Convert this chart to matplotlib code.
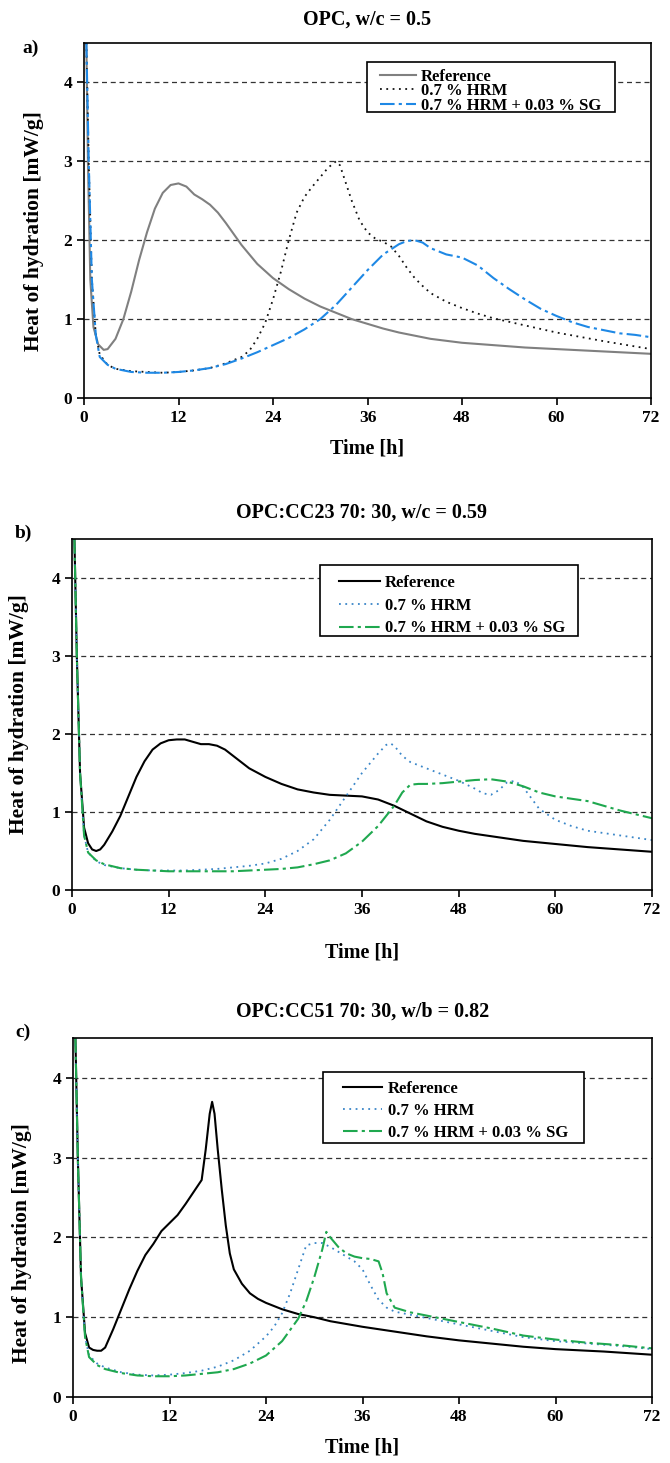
import matplotlib
matplotlib.use("Agg")
import matplotlib.pyplot as plt
from matplotlib.patches import Rectangle

plt.rcParams['font.family'] = ['Liberation Serif', 'DejaVu Serif']
plt.rcParams['font.weight'] = 'bold'

# ---- panel a: OPC, w/c = 0.5 ----
a_ref_t = [0.3, 0.5, 0.8, 1.2, 1.8, 2.5, 3, 4, 5, 6, 7, 8, 9, 10, 11, 12, 13, 14, 15, 16, 17, 18,
           19, 20, 21, 22, 24, 26, 28, 30, 32, 34, 36, 38, 40, 44, 48, 52, 56, 60, 66, 72]
a_ref_q = [4.5, 3.0, 1.5, 0.9, 0.68, 0.61, 0.62, 0.75, 1.0, 1.35, 1.75, 2.1, 2.4, 2.6, 2.7, 2.72, 2.68,
           2.58, 2.52, 2.45, 2.35, 2.22, 2.08, 1.94, 1.82, 1.7, 1.52, 1.38, 1.26, 1.16, 1.08, 1.0, 0.94,
           0.88, 0.83, 0.75, 0.7, 0.67, 0.64, 0.62, 0.59, 0.56]
a_hrm_t = [0.3, 0.6, 1, 1.5, 2, 3, 4, 6, 8, 10, 12, 14, 16, 18, 20, 21, 22, 23, 24, 25, 26, 27, 28, 29,
           30, 31, 32, 32.5, 33, 34, 35, 36, 37, 38, 39, 40, 41, 42, 43, 44, 46, 48, 50, 52, 56, 60, 66, 72]
a_hrm_q = [4.5, 3.0, 1.5, 0.8, 0.55, 0.42, 0.37, 0.34, 0.33, 0.32, 0.33, 0.35, 0.38, 0.44, 0.52, 0.6,
           0.75, 0.95, 1.25, 1.6, 2.0, 2.35, 2.55, 2.68, 2.8, 2.92, 3.0, 2.95, 2.8, 2.5, 2.25, 2.1, 2.02,
           1.98, 1.92, 1.8, 1.65, 1.52, 1.42, 1.33, 1.22, 1.14, 1.07, 1.01, 0.92, 0.83, 0.72, 0.62]
a_sg_t = [0.3, 0.6, 1, 1.5, 2, 3, 4, 6, 8, 10, 12, 14, 16, 18, 20, 22, 24, 26, 28, 30, 32, 34, 36, 38,
          40, 41, 42, 43, 44, 46, 48, 50, 52, 54, 56, 58, 60, 62, 64, 66, 68, 70, 72]
a_sg_q = [4.5, 3.0, 1.5, 0.8, 0.52, 0.42, 0.37, 0.33, 0.32, 0.32, 0.33, 0.35, 0.38, 0.43, 0.5, 0.58,
          0.67, 0.76, 0.87, 1.0, 1.18, 1.4, 1.62, 1.82, 1.95, 1.99, 2.0, 1.97, 1.9, 1.82, 1.78, 1.68,
          1.52, 1.38, 1.25, 1.13, 1.04, 0.96, 0.9, 0.86, 0.82, 0.8, 0.77]

# ---- panel b: OPC:CC23 70:30, w/c = 0.59 ----
b_ref_t = [0.3, 0.6, 1, 1.5, 2, 2.5, 3, 3.5, 4, 5, 6, 7, 8, 9, 10, 11, 12, 13, 14, 15, 16, 17, 18, 19,
           20, 21, 22, 24, 26, 28, 30, 32, 34, 36, 38, 40, 42, 44, 46, 48, 50, 52, 56, 60, 64, 68, 72]
b_ref_q = [4.5, 3.0, 1.5, 0.8, 0.6, 0.52, 0.5, 0.52, 0.58, 0.75, 0.95, 1.2, 1.45, 1.65, 1.8, 1.88,
           1.92, 1.93, 1.93, 1.9, 1.87, 1.87, 1.85, 1.8, 1.72, 1.64, 1.56, 1.45, 1.36, 1.29, 1.25, 1.22,
           1.21, 1.2, 1.16, 1.08, 0.98, 0.88, 0.81, 0.76, 0.72, 0.69, 0.63, 0.59, 0.55, 0.52, 0.49]
b_hrm_t = [0.3, 0.6, 1, 1.5, 2, 3, 4, 6, 8, 10, 12, 14, 16, 18, 20, 22, 24, 26, 28, 30, 32, 34, 36, 38,
           39, 39.5, 40, 41, 42, 44, 46, 48, 50, 51, 52, 53, 54, 55, 56, 57, 58, 60, 62, 64, 66, 68, 70, 72]
b_hrm_q = [4.5, 3.0, 1.5, 0.7, 0.48, 0.37, 0.32, 0.28, 0.26, 0.25, 0.25, 0.25, 0.26, 0.27, 0.29, 0.31,
           0.34, 0.4, 0.5, 0.65, 0.9, 1.2, 1.5, 1.75, 1.86, 1.88, 1.85, 1.72, 1.64, 1.56, 1.48, 1.4, 1.3,
           1.24, 1.22, 1.28, 1.38, 1.4, 1.32, 1.18, 1.04, 0.9, 0.82, 0.76, 0.73, 0.7, 0.67, 0.64]
b_sg_t = [0.3, 0.6, 1, 1.5, 2, 3, 4, 6, 8, 10, 12, 14, 16, 18, 20, 22, 24, 26, 28, 30, 32, 34, 36, 38,
          40, 41, 42, 43, 44, 46, 48, 50, 52, 54, 56, 58, 60, 62, 64, 66, 68, 70, 72]
b_sg_q = [4.5, 3.0, 1.5, 0.7, 0.48, 0.38, 0.33, 0.28, 0.26, 0.25, 0.24, 0.24, 0.24, 0.24, 0.24, 0.25,
          0.26, 0.27, 0.29, 0.33, 0.38, 0.47, 0.62, 0.82, 1.08, 1.25, 1.35, 1.36, 1.36, 1.37, 1.39, 1.41,
          1.42, 1.39, 1.33, 1.25, 1.2, 1.17, 1.14, 1.08, 1.02, 0.97, 0.92]

# ---- panel c: OPC:CC51 70:30, w/b = 0.82 ----
c_ref_t = [0.3, 0.6, 1, 1.5, 2, 2.5, 3, 3.5, 4, 5, 6, 7, 8, 9, 10, 11, 12, 13, 14, 15, 16, 16.5, 17,
           17.3, 17.6, 18, 18.5, 19, 19.5, 20, 21, 22, 23, 24, 26, 28, 30, 32, 36, 40, 44, 48, 52, 56,
           60, 66, 72]
c_ref_q = [4.5, 3.0, 1.5, 0.8, 0.62, 0.59, 0.58, 0.58, 0.62, 0.85, 1.1, 1.35, 1.58, 1.78, 1.92, 2.08,
           2.18, 2.28, 2.42, 2.57, 2.72, 3.1, 3.55, 3.7, 3.55, 3.1, 2.6, 2.15, 1.8, 1.6, 1.42, 1.3, 1.23,
           1.18, 1.1, 1.04, 1.0, 0.95, 0.88, 0.82, 0.76, 0.71, 0.67, 0.63, 0.6, 0.57, 0.53]
c_hrm_t = [0.3, 0.6, 1, 1.5, 2, 3, 4, 6, 8, 10, 12, 14, 16, 18, 20, 22, 24, 25, 26, 27, 28, 29, 30, 31,
           32, 33, 34, 35, 36, 37, 38, 39, 40, 42, 44, 48, 52, 56, 60, 64, 68, 72]
c_hrm_q = [4.5, 3.0, 1.5, 0.75, 0.52, 0.42, 0.37, 0.31, 0.28, 0.27, 0.28, 0.3, 0.33, 0.38, 0.46, 0.58,
           0.76, 0.88, 1.05, 1.3, 1.6, 1.9, 1.93, 1.93, 1.88, 1.82, 1.76, 1.7, 1.6, 1.4, 1.22, 1.12,
           1.07, 1.03, 0.99, 0.91, 0.83, 0.75, 0.7, 0.67, 0.64, 0.6]
c_sg_t = [0.3, 0.6, 1, 1.5, 2, 3, 4, 6, 8, 10, 12, 14, 16, 18, 20, 22, 24, 26, 28, 29, 30, 31, 31.5,
          32, 33, 34, 35, 36, 37, 38, 38.5, 39, 40, 42, 44, 48, 52, 56, 60, 64, 68, 72]
c_sg_q = [4.5, 3.0, 1.5, 0.75, 0.5, 0.4, 0.35, 0.3, 0.27, 0.26, 0.26, 0.27, 0.29, 0.31, 0.35, 0.42,
          0.52, 0.7, 0.98, 1.2, 1.5, 1.85, 2.07, 2.0, 1.88, 1.8, 1.76, 1.74, 1.73, 1.7, 1.55, 1.3, 1.12,
          1.06, 1.02, 0.94, 0.86, 0.77, 0.72, 0.68, 0.65, 0.61]

labels = ['Reference', '0.7 % HRM', '0.7 % HRM + 0.03 % SG']
titles = ['OPC, w/c = 0.5', 'OPC:CC23 70: 30, w/c = 0.59', 'OPC:CC51 70: 30, w/b = 0.82']
letters = ['a)', 'b)', 'c)']

panels = [
    (a_ref_t, a_ref_q, a_hrm_t, a_hrm_q, a_sg_t, a_sg_q, '#808080', '#111111', '#1e88e5'),
    (b_ref_t, b_ref_q, b_hrm_t, b_hrm_q, b_sg_t, b_sg_q, '#000000', '#3a86c8', '#1fa84f'),
    (c_ref_t, c_ref_q, c_hrm_t, c_hrm_q, c_sg_t, c_sg_q, '#000000', '#3a86c8', '#1fa84f'),
]

W, H = 670, 1463
fig = plt.figure(figsize=(W / 100, H / 100), dpi=100)

# pixel boxes (left, top, right, bottom)
boxes = [(84, 43, 651, 398), (72, 539, 652, 890), (73, 1038, 652, 1397)]
title_y = [20, 513, 1012]
letter_xy = [(31, 48), (23, 533), (23, 1032)]
ylab = [(-0.071, 0.47), (-0.074, 0.5), (-0.07, 0.43)]
xlab = [-0.115, -0.15, -0.112]
# legend frame (left, top, right, bottom) and content anchor
leg_box = [(367, 62, 615, 112), (320, 565, 578, 636), (323, 1072, 584, 1143)]
leg_anchor = [(380, 69), (339, 575), (343, 1081)]
leg_space = [-0.1, 0.4, 0.36]
leg_hlen = [2.15, 2.45, 2.35]

for i, p in enumerate(panels):
    l, t, r, b = boxes[i]
    ax = fig.add_axes([l / W, 1 - b / H, (r - l) / W, (b - t) / H])
    rt, rq, ht, hq, st, sq, c_ref, c_hrm, c_sg = p
    ax.plot(rt, rq, color=c_ref, lw=1.5, label=labels[0])
    ax.plot(ht, hq, color=c_hrm, lw=1.3, linestyle=(0, (1, 2.5)), label=labels[1])
    ax.plot(st, sq, color=c_sg, lw=1.5, linestyle=(0, (7, 2, 1.5, 2)), label=labels[2])
    for g in [1, 2, 3, 4]:
        ax.axhline(g, color='#333333', lw=0.9, linestyle=(0, (4, 3)), zorder=0)
    ax.set_xlim(0, 72)
    ax.set_ylim(0, 4.5)
    ax.set_xticks(range(0, 73, 12))
    ax.set_yticks([0, 1, 2, 3, 4])
    ax.tick_params(direction='out', length=5, width=1.2, labelsize=12.5, top=False, right=False)
    for lab in ax.get_xticklabels() + ax.get_yticklabels():
        lab.set_fontweight('bold')
    for s in ax.spines.values():
        s.set_linewidth(1.2)
    ax.set_ylabel('Heat of hydration [mW/g]', fontsize=15.5, fontweight='bold')
    ax.yaxis.set_label_coords(*ylab[i])
    ax.set_xlabel('Time [h]', fontsize=14.5, fontweight='bold')
    ax.xaxis.set_label_coords(0.5, xlab[i])
    fig.text((l + r) / 2 / W, 1 - title_y[i] / H, titles[i], ha='center', va='center',
             fontsize=14.5, fontweight='bold')
    fig.text(letter_xy[i][0] / W, 1 - letter_xy[i][1] / H, letters[i], ha='center', va='center',
             fontsize=14, fontweight='bold')

    # legend frame drawn separately so the padding can match the original
    bl, bt, br, bb = leg_box[i]
    ax.add_patch(Rectangle((bl / W, 1 - bb / H), (br - bl) / W, (bb - bt) / H,
                           transform=fig.transFigure, facecolor='white', edgecolor='black',
                           lw=1.2, zorder=4.5, clip_on=False))
    lx, ly = leg_anchor[i]
    ax.legend(loc='upper left', bbox_to_anchor=(lx / W, 1 - ly / H), bbox_transform=fig.transFigure,
              frameon=False, handlelength=leg_hlen[i], handletextpad=0.32,
              labelspacing=leg_space[i], borderpad=0, borderaxespad=0,
              prop={'size': 12, 'weight': 'bold'})

fig.savefig('out.png', dpi=100)
